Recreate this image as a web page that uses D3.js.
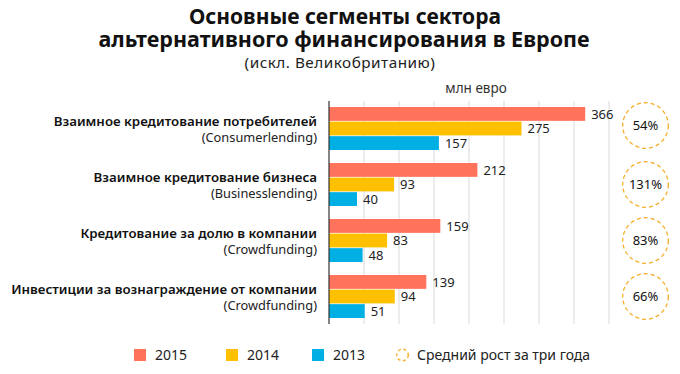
<!DOCTYPE html>
<html><head><meta charset="utf-8">
<script src="https://cdn.jsdelivr.net/npm/d3@7"></script>
<style>body{margin:0;background:#fff}svg{display:block;font-family:"Noto Sans",sans-serif}</style>
</head><body><svg id="c" width="680" height="374"></svg>
<script>
const categories = ["Взаимное кредитование потребителей","Взаимное кредитование бизнеса","Кредитование за долю в компании","Инвестиции за вознаграждение от компании"];
const subLabels = ["(Consumerlending)","(Businesslending)","(Crowdfunding)","(Crowdfunding)"];
const years = ["2015","2014","2013"];
const values2015 = [366,212,159,139];
const values2014 = [275,93,83,94];
const values2013 = [157,40,48,51];
const growth = ["54%","131%","83%","66%"];
const xTicks = [50,100,150,200,250,300,350,400];
const colors = ["#FF735D","#FFC000","#00B0E4"];
const circleColor = "#F7AE2A";

const svg = d3.select("#c");
const x = d3.scaleLinear().domain([0,400]).range([329,609]);
const y = d3.scaleBand().domain(categories).range([100,324]).paddingInner(0).paddingOuter(0);
const series = [values2015, values2014, values2013];
const yInner = d3.scaleBand().domain(years).range([0,43]).paddingInner(0.05);

// title
svg.append("text").attr("x",345).attr("y",23.5).attr("text-anchor","middle").attr("font-size",21).attr("font-weight",700).attr("fill","#111").text("Основные сегменты сектора");
svg.append("text").attr("x",344).attr("y",47).attr("text-anchor","middle").attr("font-size",21.5).attr("font-weight",700).attr("fill","#111").text("альтернативного финансирования в Европе");
svg.append("text").attr("x",340).attr("y",67.5).attr("text-anchor","middle").attr("font-size",15.3).attr("letter-spacing",0.5).attr("fill","#222").text("(искл. Великобританию)");
svg.append("text").attr("x",476).attr("y",93).attr("text-anchor","middle").attr("font-size",13.5).attr("fill","#333").text("млн евро");

// grid
svg.append("g").selectAll("line").data(xTicks).join("line")
  .attr("x1",d=>x(d)).attr("x2",d=>x(d)).attr("y1",101).attr("y2",324)
  .attr("stroke","#d9d9d9").attr("stroke-width",1);

// bars
categories.forEach((c,i)=>{
  const g = svg.append("g").attr("transform",`translate(0,${y(c)+7})`);
  years.forEach((yr,j)=>{
    const v = series[j][i];
    g.append("rect").attr("x",x(0)).attr("y",yInner(yr)).attr("width",x(v)-x(0)).attr("height",yInner.bandwidth()).attr("fill",colors[j]);
    g.append("text").attr("x",x(v)+6).attr("y",yInner(yr)+yInner.bandwidth()/2).attr("dy","0.36em").attr("font-size",13).attr("fill","#222").text(v);
  });
  const cy = y(c)+7+21.5;
  svg.append("text").attr("x",317).attr("y",cy-3).attr("text-anchor","end").attr("font-size",13.3).attr("font-weight",600).attr("fill","#111").text(c);
  svg.append("text").attr("x",317).attr("y",cy+13.5).attr("text-anchor","end").attr("font-size",12.8).attr("fill","#222").text(subLabels[i]);
  const ccy = cy-(i===0?3:0);
  svg.append("circle").attr("cx",645.5).attr("cy",ccy).attr("r",22.8).attr("fill","#fff").attr("stroke",circleColor).attr("stroke-width",1.3).attr("stroke-dasharray","4,3");
  svg.append("text").attr("x",645.5).attr("y",ccy).attr("dy","0.36em").attr("text-anchor","middle").attr("font-size",13).attr("fill","#111").text(growth[i]);
});

// axis
svg.append("line").attr("x1",x(0)).attr("x2",x(0)).attr("y1",101).attr("y2",324).attr("stroke","#333").attr("stroke-width",1.2);

// legend
const lg = svg.append("g");
const lx = [134,226,312];
years.forEach((yr,j)=>{
  lg.append("rect").attr("x",lx[j]).attr("y",349).attr("width",12).attr("height",12).attr("fill",colors[j]);
  lg.append("text").attr("x",lx[j]+21).attr("y",360).attr("font-size",14).attr("fill","#222").text(yr);
});
lg.append("circle").attr("cx",402.5).attr("cy",355).attr("r",5.8).attr("fill","none").attr("stroke",circleColor).attr("stroke-width",1.4).attr("stroke-dasharray","3,2.5");
lg.append("text").attr("x",417).attr("y",360).attr("font-size",14).attr("fill","#222").text("Средний рост за три года");
</script></body></html>
